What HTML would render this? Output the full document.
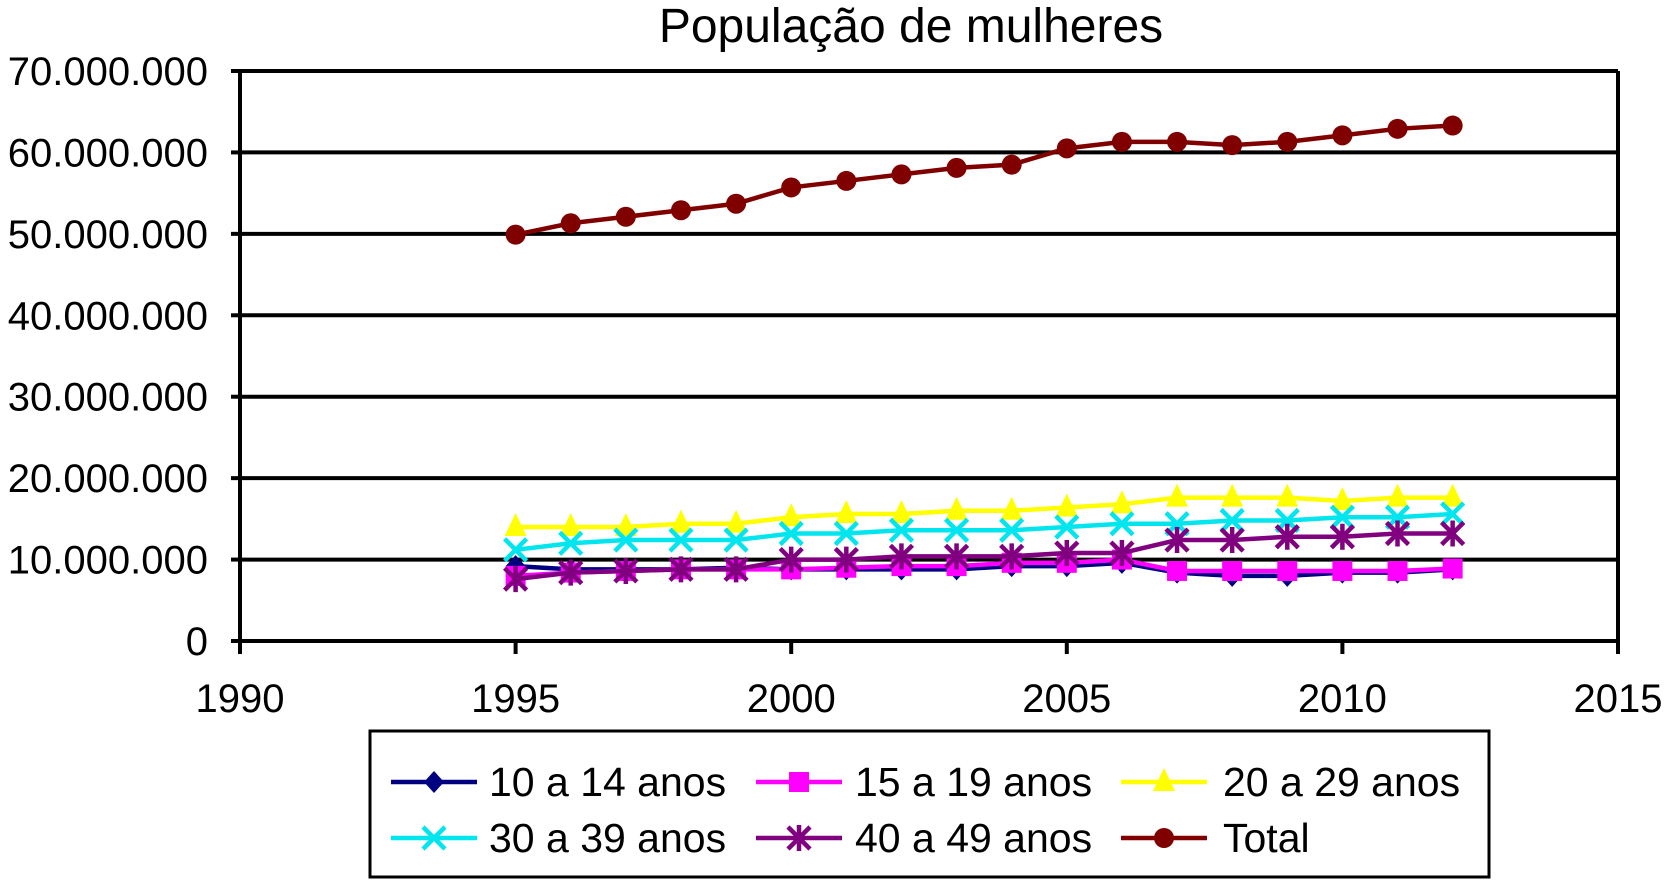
<!DOCTYPE html>
<html><head><meta charset="utf-8"><style>
html,body{margin:0;padding:0;background:#fff;}
svg text{font-family:"Liberation Sans",sans-serif;}
</style></head><body>
<svg id="chart" width="1665" height="879" xmlns="http://www.w3.org/2000/svg">
<text x="911" y="42" font-size="48" text-anchor="middle">População de mulheres</text>
<g id="grid"></g>
<g id="series"></g>
<g id="legend">
<rect x="370" y="731" width="1119" height="146" fill="#fff" stroke="#000" stroke-width="3"/>
</g>
</svg>
<script>
const years=[1995,1996,1997,1998,1999,2000,2001,2002,2003,2004,2005,2006,2007,2008,2009,2010,2011,2012];
const s10_14=[9.2,8.8,8.8,8.8,9.0,8.8,8.8,8.8,8.8,9.2,9.2,9.6,8.4,8.0,8.0,8.4,8.4,8.8];
const s15_19=[8.0,8.4,8.6,8.8,8.8,8.8,9.0,9.2,9.2,9.6,9.6,10.0,8.6,8.6,8.6,8.6,8.6,8.9];
const s20_29=[14.0,14.0,14.0,14.4,14.4,15.2,15.6,15.6,16.0,16.0,16.4,16.8,17.6,17.6,17.6,17.2,17.6,17.6];
const s30_39=[11.2,12.0,12.4,12.4,12.4,13.2,13.2,13.6,13.6,13.6,14.0,14.4,14.4,14.8,14.8,15.2,15.2,15.6];
const s40_49=[7.6,8.4,8.6,8.8,8.8,10.0,10.0,10.4,10.4,10.4,10.8,10.8,12.4,12.4,12.8,12.8,13.2,13.2];
const sTotal=[49.9,51.3,52.1,52.9,53.7,55.7,56.5,57.3,58.1,58.5,60.5,61.3,61.3,60.9,61.3,62.1,62.9,63.3];
const yTicks=[0,10,20,30,40,50,60,70];
const yTickLabels=["0","10.000.000","20.000.000","30.000.000","40.000.000","50.000.000","60.000.000","70.000.000"];
const xTicks=[1990,1995,2000,2005,2010,2015];
const seriesNames=["10 a 14 anos","15 a 19 anos","20 a 29 anos","30 a 39 anos","40 a 49 anos","Total"];

const NS="http://www.w3.org/2000/svg";
const L=240,R=1618,T=71,B=641;
const xS=v=>L+(v-1990)/25*(R-L);
const yS=v=>B-v/70*(B-T);
function mk(tag,attrs,parent){const e=document.createElementNS(NS,tag);for(const k in attrs)e.setAttribute(k,attrs[k]);parent.appendChild(e);return e;}
const grid=document.getElementById('grid');
yTicks.forEach((t,i)=>{
  if(t>0){const g=mk('line',{x1:L,x2:R,y1:yS(t),y2:yS(t),stroke:'#000','stroke-width':4},grid);
  
  }
  const tk=mk('line',{x1:L-9,x2:L,y1:yS(t),y2:yS(t),stroke:'#000','stroke-width':4},grid);
  
  
  const tx=mk('text',{x:208,y:yS(t)+14,'font-size':40,'text-anchor':'end'},grid);
  tx.textContent=yTickLabels[i];
  
  
});
const ax=mk('path',{d:`M${L},${T}V${B}H${R}V${T}`,fill:'none',stroke:'#000','stroke-width':4},grid);


xTicks.forEach(t=>{
  const tk=mk('line',{x1:xS(t),x2:xS(t),y1:B,y2:B+13,stroke:'#000','stroke-width':4},grid);
  
  
  const tx=mk('text',{x:xS(t),y:712,'font-size':40,'text-anchor':'middle'},grid);
  tx.textContent=t;
  
  
});
function marker(type,x,y,color,parent){
  let e;
  if(type==='diamond')e=mk('path',{d:`M${x},${y-11}L${x+10},${y}L${x},${y+11}L${x-10},${y}Z`,fill:color},parent);
  else if(type==='square')e=mk('rect',{x:x-10,y:y-10,width:20,height:20,fill:color},parent);
  else if(type==='triangle')e=mk('path',{d:`M${x},${y-14}L${x+11},${y+9}L${x-11},${y+9}Z`,fill:color},parent);
  else if(type==='x')e=mk('path',{d:`M${x-11},${y-11}L${x+11},${y+11}M${x-11},${y+11}L${x+11},${y-11}`,stroke:color,'stroke-width':4.5},parent);
  else if(type==='star')e=mk('path',{d:`M${x-11},${y-11}L${x+11},${y+11}M${x-11},${y+11}L${x+11},${y-11}M${x},${y-13}V${y+13}`,stroke:color,'stroke-width':4.5},parent);
  else e=mk('circle',{cx:x,cy:y,r:10,fill:color},parent);
  return e;
}
const defs=[
 {d:s10_14,c:'#000080',m:'diamond'},
 {d:s15_19,c:'#ff00ff',m:'square'},
 {d:s20_29,c:'#ffff00',m:'triangle'},
 {d:s30_39,c:'#00e5ee',m:'x'},
 {d:s40_49,c:'#800080',m:'star'},
 {d:sTotal,c:'#800000',m:'circle'}
];
const sg=document.getElementById('series');
defs.forEach((s,si)=>{
  const g=mk('g',{},sg);
  
  
  const p=mk('polyline',{points:years.map((y,i)=>xS(y)+','+yS(s.d[i])).join(' '),fill:'none',stroke:s.c,'stroke-width':4.5},g);
  
  
  years.forEach((y,i)=>{
    const m=marker(s.m,xS(y),yS(s.d[i]),s.c,g);
    
    
  });
});
const lg=document.getElementById('legend');
const lx=[391,756,1121],tx=[489,855,1223],ly=[782,838];
defs.forEach((s,i)=>{
  const col=i%3,row=Math.floor(i/3);
  const g=mk('g',{},lg);
  
  
  mk('line',{x1:lx[col],x2:lx[col]+86,y1:ly[row],y2:ly[row],stroke:s.c,'stroke-width':4.5},g);
  marker(s.m,lx[col]+43,ly[row],s.c,g);
  const t=mk('text',{x:tx[col],y:ly[row]+14,'font-size':41},g);
  t.textContent=seriesNames[i];
});
</script>
</body></html>
